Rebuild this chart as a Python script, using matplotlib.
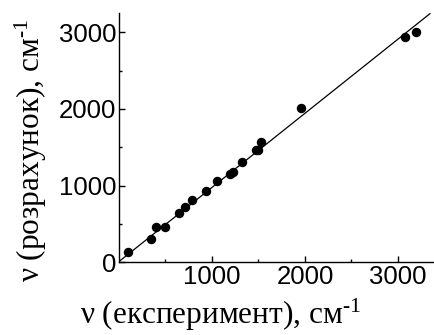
import matplotlib
matplotlib.use("Agg")
import matplotlib.pyplot as plt
import numpy as np

# experimental vs calculated frequencies, cm-1
nu_exp = [100, 341, 394, 491, 642, 713, 788, 932, 1057, 1194, 1229, 1326,
          1470, 1495, 1527, 1957, 3075, 3197]
nu_calc = [130, 308, 456, 465, 643, 717, 813, 934, 1060, 1152, 1178, 1308,
           1465, 1465, 1569, 2009, 2935, 3008]

# fit line y = k*x + b
fit_k = 0.967
fit_b = 10
fit_x = [0, 3344]

x_ticks = [1000, 2000, 3000]
y_ticks = [0, 1000, 2000, 3000]

plt.rcParams['mathtext.fontset'] = 'custom'
plt.rcParams['mathtext.rm'] = 'Liberation Serif'
plt.rcParams['mathtext.it'] = 'Liberation Serif'

fig = plt.figure(figsize=(4.35, 3.35), dpi=100)
ax = fig.add_axes([119 / 435, 1 - 262.3 / 335, (435 - 119) / 435, (262.3 - 13) / 335])

fx = np.array(fit_x)
ax.plot(fx, fit_k * fx + fit_b, color='black', lw=0.9)
ax.plot(nu_exp, nu_calc, 'o', color='black', ms=5.8, mec='black')

ax.set_xlim(0, 3398)
ax.set_ylim(0, 3252)

ax.spines['top'].set_visible(False)
ax.spines['right'].set_visible(False)
for s in ['left', 'bottom']:
    ax.spines[s].set_linewidth(1.0)

ax.set_xticks(x_ticks)
ax.set_yticks(y_ticks)
ax.set_xticks([500, 1500, 2500], minor=True)
ax.set_yticks([500, 1500, 2500], minor=True)
ax.tick_params(which='both', direction='in', width=1.0)
ax.tick_params(which='major', length=4, pad=2)
ax.tick_params(which='minor', length=2.5)
for lab in ax.get_xticklabels() + ax.get_yticklabels():
    lab.set_family('Liberation Sans')
    lab.set_fontsize(18.5)

ax.set_xlabel(r'ν (експеримент), см$^{\text{-}1}$', family='Liberation Serif',
              fontsize=22.5)
ax.set_ylabel(r'ν (розрахунок), см$^{\text{-}1}$', family='Liberation Serif',
              fontsize=22.5)
ax.xaxis.set_label_coords(0.32, -0.14, transform=ax.transAxes)
ax.yaxis.set_label_coords(-0.22, 0.45, transform=ax.transAxes)

fig.savefig('out.png', dpi=100)
